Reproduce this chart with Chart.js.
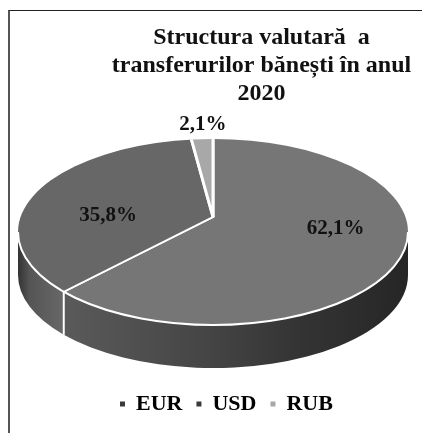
<!DOCTYPE html>
<html>
<head>
<meta charset="utf-8">
<script src="https://cdn.jsdelivr.net/npm/chart.js@4"></script>
<style>
    html, body { margin: 0; padding: 0; background: #fff; overflow: hidden; }
    #wrap { position: relative; width: 422px; height: 433px; filter: blur(0.5px); }
    #frame { position: absolute; left: 8px; top: 10px; right: 0; bottom: 0; border-left: 2px solid #555; border-top: 1px solid #222; }
    canvas { position: absolute; left: 0; top: 0; }
</style>
</head>
<body>
<div id="wrap">
    <div id="frame"></div>
    <canvas id="pie" width="422" height="433"></canvas>
</div>
<script>
const categories = ['EUR', 'USD', 'RUB'];
const shares = [62.1, 35.8, 2.1];
const shareLabels = ['62,1%', '35,8%', '2,1%'];
const titleLines = ['Structura valutară  a', 'transferurilor bănești în anul', '2020'];
const topColors = ['#767676', '#676767', '#a8a8a8'];
const legendColors = ['#3a3a3a', '#3a3a3a', '#a8a8a8'];

// the pie is tilted: rim is an ellipse, apex sits above the ellipse centre
const tilt = { cx: 213, cy: 232, rx: 195, ry: 93, apexY: 217, depth: 43 };
const labelNudge = [[0, -12], [-3, 14], [1, -12]];

function rimAngle(a) {
    // where a slice edge leaving the apex meets the rim
    const oy = (tilt.apexY - tilt.cy) / tilt.ry;
    const dx = Math.cos(a), dy = Math.sin(a);
    const b = oy * dy;
    const t = -b + Math.sqrt(b * b - (oy * oy - 1));
    return Math.atan2(oy + t * dy, t * dx);
}

function sideGradient(ctx, stops) {
    const g = ctx.createLinearGradient(tilt.cx - tilt.rx, 0, tilt.cx + tilt.rx, 0);
    stops.forEach(s => g.addColorStop(s[0], s[1]));
    return g;
}

const tiltedPie = {
    id: 'tiltedPie',
    beforeDatasetsDraw(chart) {
        const ctx = chart.ctx;
        const arcs = chart.getDatasetMeta(0).data;
        const sideStops = [
            [[0, '#555'], [0.12, '#5a5a5a'], [0.5, '#444'], [0.7, '#353535'], [1, '#262626']],
            [[0, '#333'], [0.03, '#555'], [0.11, '#666'], [1, '#666']],
            [[0, '#888'], [1, '#888']]
        ];
        ctx.save();
        arcs.forEach((arc, i) => {
            let a0 = rimAngle(arc.startAngle), a1 = rimAngle(arc.endAngle);
            if (a1 < a0) a1 += Math.PI * 2;
            // only the front half of the rim is visible
            const from = Math.max(a0, 0), to = Math.min(a1, Math.PI);
            if (to <= from) return;
            ctx.beginPath();
            ctx.ellipse(tilt.cx, tilt.cy, tilt.rx, tilt.ry, 0, from, to);
            ctx.ellipse(tilt.cx, tilt.cy + tilt.depth, tilt.rx, tilt.ry, 0, to, from, true);
            ctx.closePath();
            ctx.fillStyle = sideGradient(ctx, sideStops[i]);
            ctx.fill();
            if (from > 0 && from < Math.PI) {
                const x = tilt.cx + tilt.rx * Math.cos(from);
                const y = tilt.cy + tilt.ry * Math.sin(from);
                ctx.beginPath();
                ctx.moveTo(x, y);
                ctx.lineTo(x, y + tilt.depth);
                ctx.strokeStyle = '#fff';
                ctx.lineWidth = 2;
                ctx.stroke();
            }
        });
        ctx.restore();

        // squash the library's arcs into the rim ellipse
        const k = tilt.ry / tilt.rx;
        ctx.save();
        ctx.beginPath();
        ctx.ellipse(tilt.cx, tilt.cy, tilt.rx, tilt.ry, 0, 0, Math.PI * 2);
        ctx.clip();
        ctx.translate(tilt.cx - arcs[0].x, tilt.apexY - arcs[0].y * k);
        ctx.scale(1, k);
    },
    afterDatasetsDraw(chart) {
        const ctx = chart.ctx;
        const arcs = chart.getDatasetMeta(0).data;
        ctx.restore();

        ctx.save();
        ctx.beginPath();
        ctx.ellipse(tilt.cx, tilt.cy, tilt.rx, tilt.ry, 0, 0, Math.PI);
        ctx.strokeStyle = '#fff';
        ctx.lineWidth = 2;
        ctx.stroke();

        ctx.font = 'bold 21px "Liberation Serif"';
        ctx.fillStyle = '#111';
        ctx.textAlign = 'center';
        ctx.textBaseline = 'middle';
        const k = tilt.ry / tilt.rx;
        const spread = [132, 107, 170];
        arcs.forEach((arc, i) => {
            const mid = (arc.startAngle + arc.endAngle) / 2;
            const x = tilt.cx + spread[i] * Math.cos(mid) + labelNudge[i][0];
            const y = tilt.apexY + spread[i] * Math.sin(mid) * k + labelNudge[i][1];
            ctx.fillText(shareLabels[i], x, y);
        });
        ctx.restore();
    }
};

new Chart(document.getElementById('pie'), {
    type: 'pie',
    data: {
        labels: categories,
        datasets: [{
            data: shares,
            backgroundColor: topColors,
            borderColor: '#fff',
            borderWidth: 3,
            radius: 300,
            clip: false
        }]
    },
    options: {
        responsive: false,
        animation: false,
        layout: { padding: { top: 14, bottom: 8, left: 106, right: 5 } },
        plugins: {
            tooltip: { enabled: false },
            title: {
                display: true,
                text: titleLines,
                color: '#111',
                font: { family: '"Liberation Serif"', size: 24, weight: 'bold', lineHeight: 1.17 }
            },
            legend: {
                position: 'bottom',
                align: 'start',
                labels: {
                    usePointStyle: true,
                    pointStyle: 'rect',
                    boxWidth: 5,
                    boxHeight: 5,
                    padding: 14,
                    color: '#111',
                    font: { family: '"Liberation Serif"', size: 22, weight: 'bold' },
                    generateLabels() {
                        return categories.map((c, i) => ({
                            text: c,
                            fillStyle: legendColors[i],
                            strokeStyle: legendColors[i],
                            lineWidth: 0,
                            pointStyle: 'rect',
                            index: i
                        }));
                    }
                }
            }
        }
    },
    plugins: [tiltedPie]
});
</script>
</body>
</html>
